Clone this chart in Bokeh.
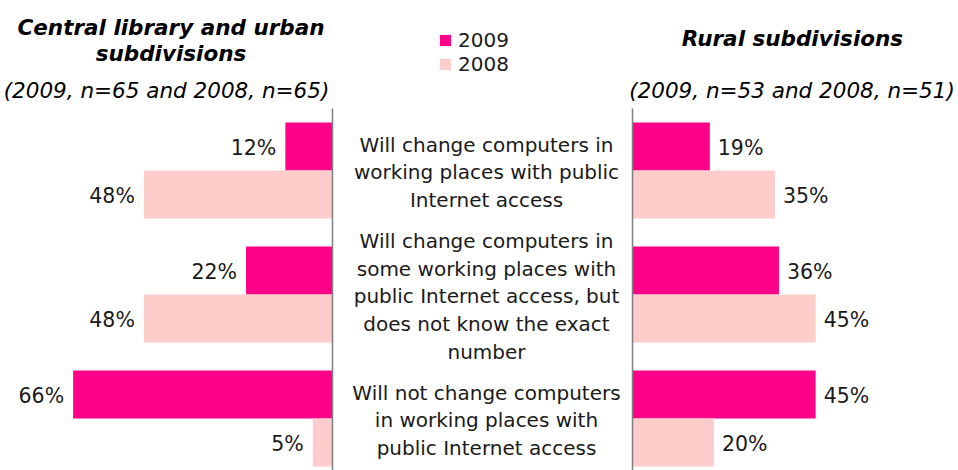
from bokeh.plotting import figure
from bokeh.models import Range1d, Legend, LegendItem
from bokeh.embed import file_html
from bokeh.resources import INLINE
from bokeh.core.properties import value

# ---------------- data ----------------
categories = [
    "Will change computers in\nworking places with public\nInternet access",
    "Will change computers in\nsome working places with\npublic Internet access, but\ndoes not know the exact\nnumber",
    "Will not change computers\nin working places with\npublic Internet access",
]
years = ["2009", "2008"]
urban_2009 = [12, 22, 66]
urban_2008 = [48, 48, 5]
rural_2009 = [19, 36, 45]
rural_2008 = [35, 45, 20]
urban_title = "Central library and urban\nsubdivisions"
urban_sub = "(2009, n=65 and 2008, n=65)"
rural_title = "Rural subdivisions"
rural_sub = "(2009, n=53 and 2008, n=51)"

# ---------------- layout ----------------
W, H = 958, 470
C2009 = "#FF0088"
C2008 = "#FFCCCC"
FONT_NAME = "DejaVu Sans"
FONT = value(FONT_NAME)
LEFT_AXIS_PX = 332.0
RIGHT_AXIS_PX = 632.0
LEFT_SCALE = 3.93     # px per percent
RIGHT_SCALE = 4.07
GROUP_PX = 124.0
GROUP0_PX = 170.0
BAR_H = 48.0 / GROUP_PX

l_start = LEFT_AXIS_PX / LEFT_SCALE
r_start = -RIGHT_AXIS_PX / RIGHT_SCALE
g_top = -GROUP0_PX / GROUP_PX

p = figure(width=W, height=H, output_backend="svg", toolbar_location=None,
           x_range=Range1d(0, W), y_range=Range1d(H, 0),
           min_border=0, min_border_left=0, min_border_right=0,
           min_border_top=0, min_border_bottom=0)
p.extra_x_ranges = {
    "left": Range1d(start=l_start, end=l_start - W / LEFT_SCALE),
    "right": Range1d(start=r_start, end=r_start + W / RIGHT_SCALE),
}
p.extra_y_ranges = {"groups": Range1d(start=g_top + H / GROUP_PX, end=g_top)}
p.axis.visible = False
p.grid.visible = False
p.outline_line_color = None
p.background_fill_color = "white"
p.border_fill_color = "white"

n = len(categories)
idx = list(range(n))
y09 = [i - BAR_H / 2 for i in idx]
y08 = [i + BAR_H / 2 for i in idx]

# bars
p.hbar(y=y09, left=0, right=urban_2009, height=BAR_H, color=C2009, line_color=None,
       x_range_name="left", y_range_name="groups")
p.hbar(y=y08, left=0, right=urban_2008, height=BAR_H, color=C2008, line_color=None,
       x_range_name="left", y_range_name="groups")
r09 = p.hbar(y=y09, left=0, right=rural_2009, height=BAR_H, color=C2009, line_color=None,
             x_range_name="right", y_range_name="groups")
r08 = p.hbar(y=y08, left=0, right=rural_2008, height=BAR_H, color=C2008, line_color=None,
             x_range_name="right", y_range_name="groups")

# separator axis lines
for rn in ("left", "right"):
    p.segment(x0=[0], x1=[0], y0=[-0.5], y1=[n], line_color="#808080",
              line_width=1.5, x_range_name=rn, y_range_name="groups")

# value labels
LBL = dict(text_font=FONT, text_font_size="20.5px", text_color="#1a1a1a",
           text_baseline="middle", y_range_name="groups", y_offset=1)
p.text(x=urban_2009, y=y09, text=[f"{v}%" for v in urban_2009], x_offset=-9,
       text_align="right", x_range_name="left", **LBL)
p.text(x=urban_2008, y=y08, text=[f"{v}%" for v in urban_2008], x_offset=-9,
       text_align="right", x_range_name="left", **LBL)
p.text(x=rural_2009, y=y09, text=[f"{v}%" for v in rural_2009], x_offset=8,
       text_align="left", x_range_name="right", **LBL)
p.text(x=rural_2008, y=y08, text=[f"{v}%" for v in rural_2008], x_offset=8,
       text_align="left", x_range_name="right", **LBL)

# category texts (middle column)
mid_x = (LEFT_AXIS_PX + RIGHT_AXIS_PX) / 2 + 4
p.text(x=[mid_x] * n, y=idx, text=categories, text_font=FONT, text_font_size="20px",
       text_color="#1a1a1a", text_align="center", text_baseline="middle",
       text_line_height=1.15, y_offset=2, y_range_name="groups")

# panel titles
TT = dict(text_font=FONT, text_font_size="21.5px", text_color="black",
          text_align="center", text_baseline="middle")
p.text(x=[170.5], y=[40], text=[urban_title], text_font_style="bold italic",
       text_line_height=1.04, **TT)
p.text(x=[792], y=[38], text=[rural_title], text_font_style="bold italic", **TT)
p.text(x=[166], y=[90], text=[urban_sub], text_font_style="italic", **TT)
p.text(x=[791.5], y=[90], text=[rural_sub], text_font_style="italic", **TT)

# legend
legend = Legend(items=[LegendItem(label=years[0], renderers=[r09]),
                       LegendItem(label=years[1], renderers=[r08])],
                location=(438, H - 76), orientation="vertical",
                glyph_width=14, glyph_height=14, label_height=14,
                label_standoff=6, spacing=-2, padding=0, margin=0,
                label_text_font=FONT_NAME, label_text_font_size="20px",
                label_text_color="#1a1a1a",
                background_fill_alpha=0, border_line_color=None)
p.add_layout(legend)

open("out.html", "w").write(file_html(p, INLINE))
